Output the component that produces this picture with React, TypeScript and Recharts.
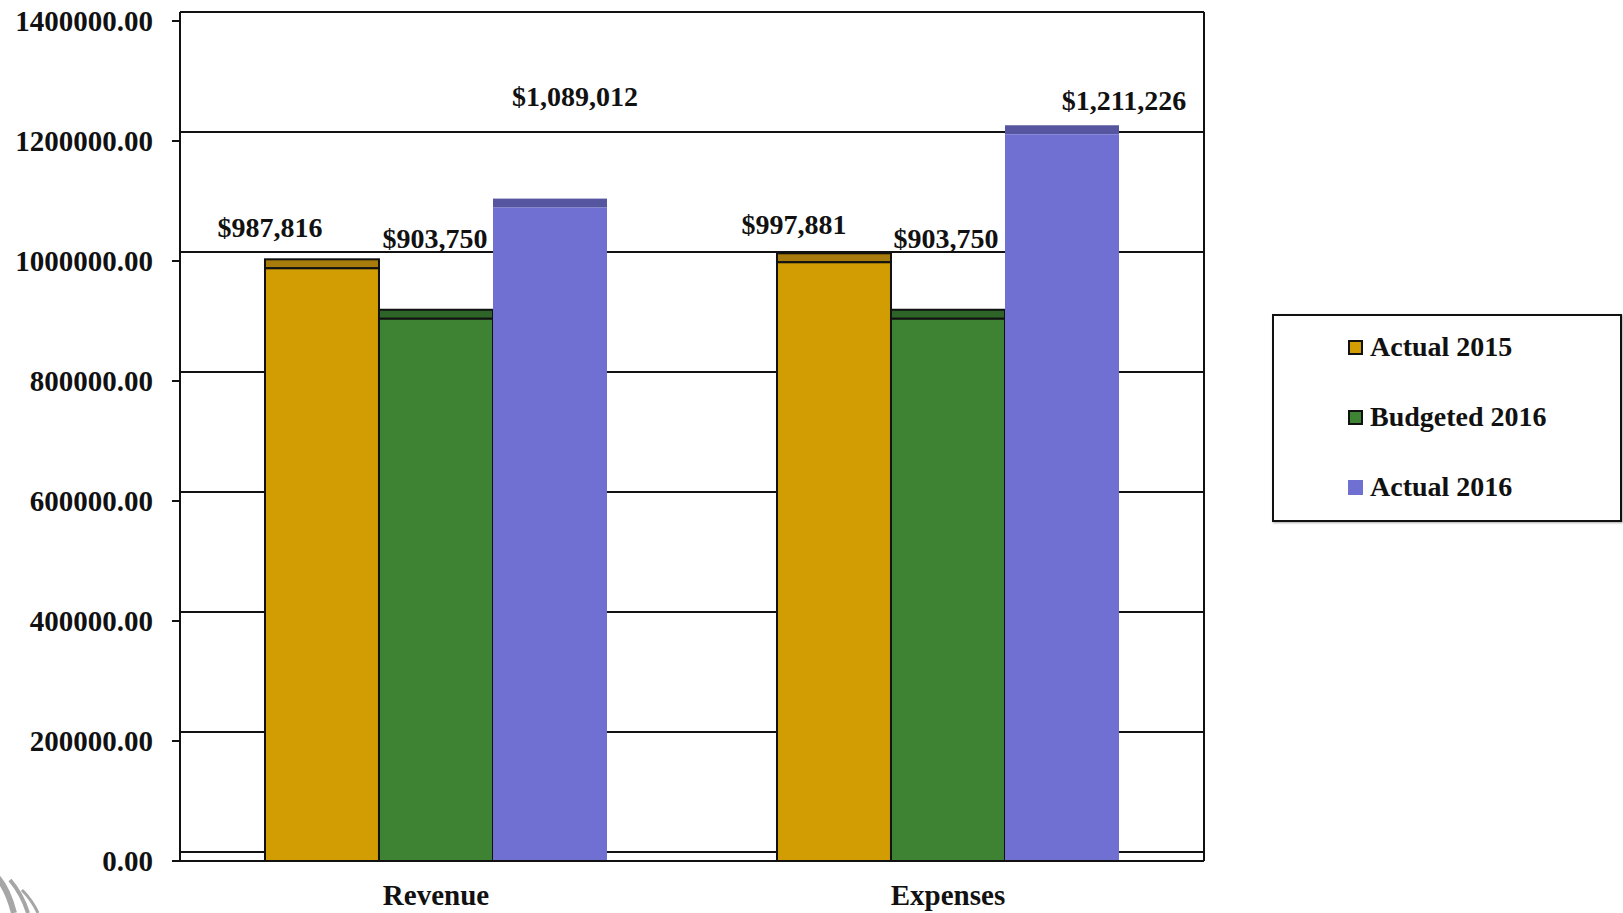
import React from 'react';
import { BarChart, Bar, XAxis, YAxis, CartesianGrid, Legend, LabelList } from 'recharts';

const categories = ['Revenue', 'Expenses'];
const actual2015 = [987816, 997881];
const budgeted2016 = [903750, 903750];
const actual2016 = [1089012, 1211226];
const yTicks = [0, 200000, 400000, 600000, 800000, 1000000, 1200000, 1400000];

const data = categories.map((name, i) => ({
  name,
  actual2015: actual2015[i],
  budgeted2016: budgeted2016[i],
  actual2016: actual2016[i],
}));

const FONT = "'Liberation Serif', 'DejaVu Serif', serif";
const DEPTH = 9; // height of the fake 3D top face / wall offset

const series = [
  { key: 'actual2015', name: 'Actual 2015', fill: '#d19d03', top: '#a87c0c', outlined: true },
  { key: 'budgeted2016', name: 'Budgeted 2016', fill: '#3d8333', top: '#2e6428', outlined: true },
  { key: 'actual2016', name: 'Actual 2016', fill: '#7070d2', top: '#5555a0', outlined: false },
];

// hand-placed value labels: [dx from bar centre, dy from bar top to baseline]
const labelNudge: Record<string, [number, number][]> = {
  actual2015: [[-52, -31], [-40, -28]],
  budgeted2016: [[-1, -71], [-2, -71]],
  actual2016: [[25, -102], [62, -24]],
};

const money = (v: number) => '$' + v.toLocaleString('en-US');

const BoxBar = (props: any) => {
  const { x, y, width, height, fill, top, outlined } = props;
  const stroke = outlined ? '#111' : 'none';
  return (
    <g>
      <rect x={x} y={y - DEPTH} width={width} height={DEPTH} fill={top} stroke={stroke} strokeWidth={2} />
      <rect x={x} y={y} width={width} height={height} fill={fill} stroke={stroke} strokeWidth={2} />
    </g>
  );
};

const makeLabel = (key: string) => (p: any) => {
  const { x, y, width, value, index } = p;
  const [dx, dy] = labelNudge[key][index];
  return (
    <text
      x={x + width / 2 + dx}
      y={y + dy}
      textAnchor="middle"
      fontFamily={FONT}
      fontWeight="bold"
      fontSize={28}
      fill="#111"
    >
      {money(value)}
    </text>
  );
};

const YTick = (p: any) => (
  <text x={p.x} y={p.y + 10} textAnchor="end" fontFamily={FONT} fontWeight="bold" fontSize={29} fill="#111">
    {Number(p.payload.value).toFixed(2)}
  </text>
);

const XTick = (p: any) => (
  <text x={p.x} y={p.y + 42} textAnchor="middle" fontFamily={FONT} fontWeight="bold" fontSize={29} fill="#111">
    {p.payload.value}
  </text>
);

const LegendBox = () => (
  <div
    style={{
      width: 346,
      height: 204,
      boxSizing: 'content-box',
      border: '2px solid #111',
      boxShadow: '1px 1px 2px #aaa',
      background: '#fff',
      fontFamily: FONT,
      fontWeight: 'bold',
      fontSize: 28,
      color: '#111',
      overflow: 'hidden',
    }}
  >
    {series.map((s, i) => (
      <div
        key={s.key}
        style={{ height: 70, marginTop: i === 0 ? -4 : 0, display: 'flex', alignItems: 'center', paddingLeft: 74 }}
      >
        <span
          style={{
            display: 'inline-block',
            width: 15,
            height: 15,
            boxSizing: 'border-box',
            background: s.fill,
            border: s.outlined ? '2px solid #111' : 'none',
            marginRight: 7,
          }}
        />
        <span>{s.name}</span>
      </div>
    ))}
  </div>
);

const gridH = (p: any) => (
  <line key={`h-${p.index}`} x1={p.x1} x2={p.x2} y1={p.y1 - DEPTH} y2={p.y2 - DEPTH} stroke="#111" strokeWidth={2} />
);

const gridV = (p: any) => (
  <line key={`v-${p.index}`} x1={p.x1} x2={p.x2} y1={p.y1 - DEPTH} y2={p.y2} stroke="#111" strokeWidth={2} />
);

const App: React.FC = () => (
  <div style={{ position: 'absolute', left: 0, top: 0, width: 1623, height: 913, background: '#fff' }}>
    <BarChart
      width={1623}
      height={913}
      data={data}
      margin={{ top: 21, right: 419, bottom: 12, left: 10 }}
      barGap={0}
      barCategoryGap="16.6%"
    >
      <CartesianGrid
        horizontal={gridH}
        vertical={gridV}
        verticalCoordinatesGenerator={({ offset }: any) => [offset.left, offset.left + offset.width]}
      />
      <XAxis
        dataKey="name"
        height={40}
        tickLine={false}
        tickSize={0}
        axisLine={{ stroke: '#111', strokeWidth: 2 }}
        tick={<XTick />}
        interval={0}
      />
      <YAxis
        width={170}
        domain={[0, 1400000]}
        ticks={yTicks}
        interval={0}
        tickSize={8}
        tickMargin={19}
        axisLine={{ stroke: '#111', strokeWidth: 2 }}
        tickLine={{ stroke: '#111', strokeWidth: 2 }}
        tick={<YTick />}
      />
      <Legend
        align="center"
        verticalAlign="middle"
        layout="horizontal"
        content={<LegendBox />}
        wrapperStyle={{ left: 1272, top: 314, width: 350, height: 208 }}
      />
      {series.map((s) => (
        <Bar
          key={s.key}
          dataKey={s.key}
          name={s.name}
          fill={s.fill}
          isAnimationActive={false}
          shape={(p: any) => <BoxBar {...p} top={s.top} outlined={s.outlined} />}
        >
          <LabelList dataKey={s.key} content={makeLabel(s.key)} />
        </Bar>
      ))}
    </BarChart>
    {/* grey swoosh mark in the corner */}
    <svg style={{ position: 'absolute', left: 0, top: 868 }} width={60} height={45}>
      <path d="M-2 10 Q8 22 14 45" stroke="#a6a6a6" strokeWidth={6} fill="none" />
      <path d="M10 12 Q22 26 28 45" stroke="#a6a6a6" strokeWidth={4} fill="none" />
      <path d="M22 22 Q32 32 38 45" stroke="#a6a6a6" strokeWidth={3} fill="none" />
    </svg>
  </div>
);

export default App;
